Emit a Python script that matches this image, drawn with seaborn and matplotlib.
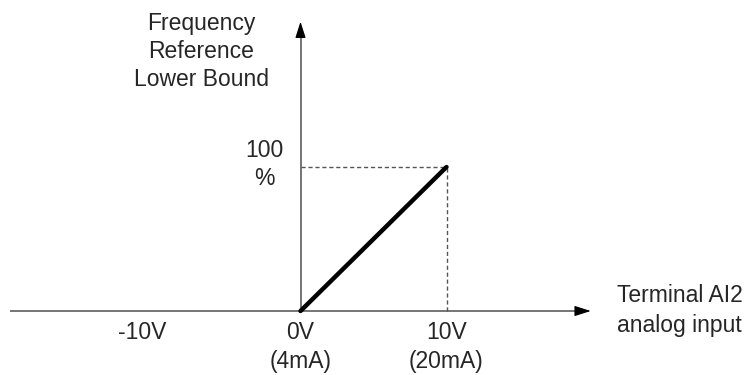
import numpy as np
import seaborn as sns
from matplotlib import pyplot as plt

# chart data
volts = [0, 10]
percent = [0, 100]
x_tick_labels = ["-10V", "0V\n(4mA)", "10V\n(20mA)"]
y_tick_label = "100\n%"
y_title = "Frequency\nReference\nLower Bound"
x_title = "Terminal AI2\nanalog input"

W, H = 754, 375
X0, SX = 300.5, 14.6   # pixel of 0V, pixels per volt
Y0, SY = 311.0, 1.44   # pixel of 0 %, pixels per percent
label_px = [142, 300.5, 446.5]  # x centres of the tick labels


def fx(px):
    return px / W


def fy(py):
    return 1 - py / H


sns.set_style("white")
plt.rcParams["font.family"] = ["Liberation Sans", "DejaVu Sans"]
FS = 16.5

fig = plt.figure(figsize=(W / 100, H / 100), dpi=100)
ax = fig.add_axes([0, 0, 1, 1])
ax.set_xlim(-X0 / SX, (W - X0) / SX)
ax.set_ylim((Y0 - H) / SY, Y0 / SY)
ax.axis("off")

axis_color = "#6a6a6a"
x_left, x_tip = (10 - X0) / SX, (590.7 - X0) / SX
y_tip = (Y0 - 21.7) / SY
head = 14  # px

# axis shafts (gray) and black arrow heads
ax.hlines(0, x_left, x_tip - head / SX, colors=axis_color, lw=1.3)
ax.vlines(0, 0, y_tip - head / SY, colors=axis_color, lw=1.3)
arrow = dict(arrowstyle="-|>,head_length=1.0,head_width=0.32", mutation_scale=10,
             color="black", lw=0.8, shrinkA=0, shrinkB=0)
ax.annotate("", xy=(x_tip, 0), xytext=(x_tip - head / SX, 0), arrowprops=arrow)
ax.annotate("", xy=(0, y_tip), xytext=(0, y_tip - head / SY), arrowprops=arrow)

# dashed guides
ax.hlines(percent[-1], volts[0], volts[-1], colors="#555555", lw=1.0,
          linestyles=(0, (3, 2)))
ax.vlines(volts[-1], 0, percent[-1], colors="#555555", lw=1.0,
          linestyles=(0, (3, 2)))

sns.lineplot(x=volts, y=percent, ax=ax, color="black", linewidth=3.2)

# labels
for px, lab in zip(label_px, x_tick_labels):
    for i, line in enumerate(lab.split("\n")):
        fig.text(fx(px), fy(339 + 29 * i), line, ha="center",
                 va="baseline", fontsize=FS)

for i, line in enumerate(y_tick_label.split("\n")):
    fig.text(fx(264), fy(157 + 28 * i), line, ha="center", va="baseline",
             fontsize=FS)

for i, line in enumerate(y_title.split("\n")):
    fig.text(fx(201), fy(30 + 28 * i), line, ha="center", va="baseline",
             fontsize=FS)

for i, line in enumerate(x_title.split("\n")):
    fig.text(fx(617), fy(302 + 30 * i), line, ha="left", va="baseline",
             fontsize=FS)

fig.savefig("out.png", dpi=100)
